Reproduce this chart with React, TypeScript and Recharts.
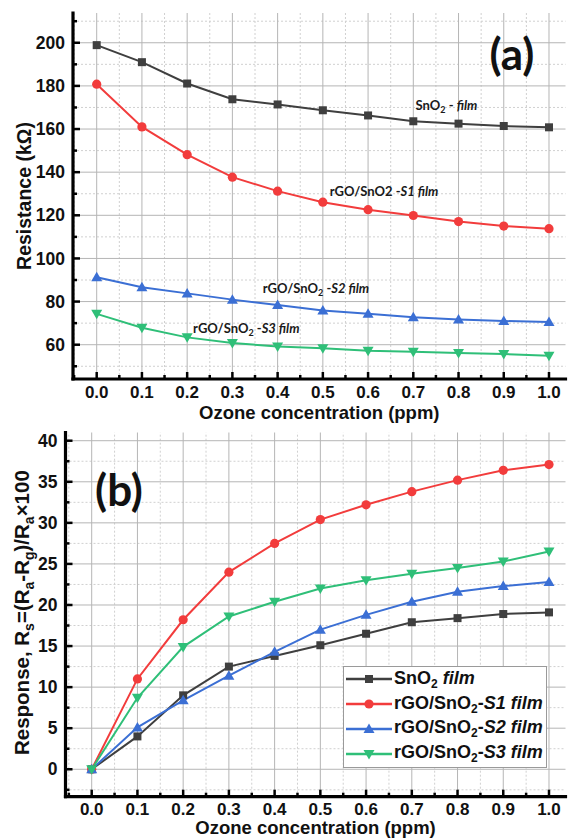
import React from "react";
import {
  LineChart,
  Line,
  XAxis,
  YAxis,
  ReferenceLine,
  ReferenceDot,
  Label,
} from "recharts";

// ---- data ----
const concentration = [0, 0.1, 0.2, 0.3, 0.4, 0.5, 0.6, 0.7, 0.8, 0.9, 1.0];

// panel (a) resistance, kOhm
const resSnO2 = [198.9, 191.0, 181.1, 173.8, 171.4, 168.7, 166.3, 163.6, 162.5, 161.4, 160.8];
const resS1 = [180.8, 161.0, 148.1, 137.7, 131.2, 126.1, 122.6, 119.9, 117.1, 115.0, 113.8];
const resS2 = [91.3, 86.6, 83.8, 80.9, 78.4, 75.9, 74.3, 72.7, 71.7, 71.0, 70.5];
const resS3 = [74.3, 67.9, 63.4, 60.8, 59.2, 58.3, 57.2, 56.7, 56.1, 55.7, 54.9];

// panel (b) response
const rspSnO2 = [0, 4.0, 9.0, 12.5, 13.8, 15.1, 16.5, 17.9, 18.4, 18.9, 19.1];
const rspS1 = [0, 11.0, 18.2, 24.0, 27.5, 30.4, 32.2, 33.8, 35.2, 36.4, 37.1];
const rspS2 = [0, 5.1, 8.4, 11.4, 14.3, 17.0, 18.8, 20.4, 21.6, 22.3, 22.8];
const rspS3 = [0, 8.7, 14.9, 18.6, 20.4, 22.0, 23.0, 23.8, 24.5, 25.3, 26.5];

const seriesKeys = ["snO2", "s1", "s2", "s3"];
const seriesColors = ["#3f3f3f", "#f23c3c", "#3b6fd4", "#2fbf78"];
const seriesShapes = ["square", "circle", "up", "down"];

// ticks
const xMajor = [0, 0.1, 0.2, 0.3, 0.4, 0.5, 0.6, 0.7, 0.8, 0.9, 1.0];
const xMinor = [-0.05, 0.05, 0.15, 0.25, 0.35, 0.45, 0.55, 0.65, 0.75, 0.85, 0.95];
const yMajorA = [60, 80, 100, 120, 140, 160, 180, 200];
const yMinorA = [50, 70, 90, 110, 130, 150, 170, 190, 210];
const yMajorB = [0, 5, 10, 15, 20, 25, 30, 35, 40];
const yMinorB = [-2.5, 2.5, 7.5, 12.5, 17.5, 22.5, 27.5, 32.5, 37.5];

const dataA = concentration.map((x, i) => ({
  x,
  snO2: resSnO2[i],
  s1: resS1[i],
  s2: resS2[i],
  s3: resS3[i],
}));
const dataB = concentration.map((x, i) => ({
  x,
  snO2: rspSnO2[i],
  s1: rspS1[i],
  s2: rspS2[i],
  s3: rspS3[i],
}));

const AXIS_FONT = '"Liberation Sans", Arial, sans-serif';
const NOTE_FONT = "Lato, 'Open Sans', sans-serif";
const TICK_SIZE = 17;
const TITLE_SIZE = 18.5;

const sortNum = (a: number[], b: number[]) => [...a, ...b].sort((p, q) => p - q);

function Marker({ shape, cx, cy, color }: any) {
  if (shape === "square")
    return <rect x={cx - 4} y={cy - 4} width={8} height={8} fill={color} />;
  if (shape === "circle") return <circle cx={cx} cy={cy} r={4.6} fill={color} />;
  if (shape === "up")
    return (
      <polygon
        points={`${cx},${cy - 5.5} ${cx + 5.5},${cy + 4} ${cx - 5.5},${cy + 4}`}
        fill={color}
      />
    );
  return (
    <polygon
      points={`${cx},${cy + 5.5} ${cx + 5.5},${cy - 4} ${cx - 5.5},${cy - 4}`}
      fill={color}
    />
  );
}

const dotFor = (shape: string, color: string) => (p: any) =>
  <Marker key={`${shape}-${p.index}`} shape={shape} cx={p.cx} cy={p.cy} color={color} />;

// inward tick marks drawn on each side of the frame
const tickText = {
  fontFamily: AXIS_FONT,
  fontWeight: 700,
  fontSize: TICK_SIZE,
  fill: "#111",
};

const bottomTick = (majors: number[], labelGap: number) => (p: any) => {
  const major = majors.includes(p.payload.value);
  return (
    <g>
      <line x1={p.x} y1={p.y} x2={p.x} y2={p.y - (major ? 7 : 4)} stroke="#000" strokeWidth={2.5} />
      {major && (
        <text x={p.x} y={p.y + labelGap} dy="0.35em" textAnchor="middle" {...tickText}>
          {p.payload.value.toFixed(1)}
        </text>
      )}
    </g>
  );
};

const topTick = (majors: number[]) => (p: any) => {
  const major = majors.includes(p.payload.value);
  return (
    <line x1={p.x} y1={p.y} x2={p.x} y2={p.y + (major ? 7 : 4)} stroke="#000" strokeWidth={2.5} />
  );
};

const leftTick = (majors: number[]) => (p: any) => {
  const major = majors.includes(p.payload.value);
  return (
    <g>
      <line x1={p.x} y1={p.y} x2={p.x + (major ? 7 : 4)} y2={p.y} stroke="#000" strokeWidth={2.5} />
      {major && (
        <text x={p.x - 8} y={p.y} dy="0.35em" textAnchor="end" {...tickText} fontSize={17.5}>
          {p.payload.value}
        </text>
      )}
    </g>
  );
};

const rightTick = (majors: number[]) => (p: any) => {
  const major = majors.includes(p.payload.value);
  return (
    <line x1={p.x} y1={p.y} x2={p.x - (major ? 7 : 4)} y2={p.y} stroke="#000" strokeWidth={2.5} />
  );
};

const frameLine = { stroke: "#000", strokeWidth: 3.2, strokeLinecap: "square" as const };

const titleText = {
  fontFamily: AXIS_FONT,
  fontWeight: 700,
  fontSize: TITLE_SIZE,
  fill: "#111",
};

function XTitle({ viewBox, dy }: any) {
  const { x, y, width } = viewBox;
  return (
    <text x={x + width / 2} y={y + dy} dy="0.35em" textAnchor="middle" {...titleText}>
      Ozone concentration (ppm)
    </text>
  );
}

function YTitleA({ viewBox }: any) {
  const cx = 24;
  const cy = viewBox.y + viewBox.height / 2;
  return (
    <text
      x={cx}
      y={cy}
      dy="0.35em"
      textAnchor="middle"
      transform={`rotate(-90 ${cx} ${cy})`}
      {...titleText}
      fontSize={19.5}
    >
      Resistance (kΩ)
    </text>
  );
}

function YTitleB({ viewBox }: any) {
  const cx = 22;
  const cy = viewBox.y + viewBox.height / 2 - 2;
  const sub = { fontSize: 14 };
  return (
    <text
      x={cx}
      y={cy}
      dy="0.35em"
      textAnchor="middle"
      transform={`rotate(-90 ${cx} ${cy})`}
      {...titleText}
      fontSize={20.5}
    >
      Response, R
      <tspan dy={5} {...sub}>s</tspan>
      <tspan dy={-5}>=(R</tspan>
      <tspan dy={5} {...sub}>a</tspan>
      <tspan dy={-5}>-R</tspan>
      <tspan dy={5} {...sub}>g</tspan>
      <tspan dy={-5}>)/R</tspan>
      <tspan dy={5} {...sub}>a</tspan>
      <tspan dy={-5}>×100</tspan>
    </text>
  );
}

// in-plot annotations for panel (a)
const noteText = { fontFamily: NOTE_FONT, fontWeight: 700, fontSize: 13, fill: "#1a1a1a" };

function Note({ viewBox, sample }: any) {
  const { x, y } = viewBox;
  return (
    <text x={x} y={y} dy="0.35em" {...noteText}>
      {sample === "snO2" ? (
        <>
          SnO<tspan dy={3} fontSize={9}>2</tspan>
          <tspan dy={-3}> - </tspan>
          <tspan fontStyle="italic">film</tspan>
        </>
      ) : sample === "s1" ? (
        <>
          rGO/SnO2 -<tspan fontStyle="italic">S1 film</tspan>
        </>
      ) : (
        <>
          rGO/SnO<tspan dy={3} fontSize={9}>2</tspan>
          <tspan dy={-3}> -</tspan>
          <tspan fontStyle="italic">{sample === "s2" ? "S2 film" : "S3 film"}</tspan>
        </>
      )}
    </text>
  );
}

const notesA = [
  { key: "snO2", x: 0.705, y: 171.0 },
  { key: "s1", x: 0.515, y: 131.2 },
  { key: "s2", x: 0.367, y: 86.0 },
  { key: "s3", x: 0.213, y: 67.4 },
];

function Panel({
  data,
  top,
  height,
  marginTop,
  xHeight,
  labelGap,
  titleDy,
  yWidth,
  xDomain,
  yDomain,
  yMajor,
  yMinor,
  yTitle,
  notes,
}: any) {
  const xTicks = sortNum(xMajor, xMinor);
  const yTicks = sortNum(yMajor, yMinor);
  return (
    <div style={{ position: "absolute", left: 0, top }}>
      <LineChart
        width={569}
        height={height}
        data={data}
        margin={{ top: marginTop, right: 3.5, bottom: 0, left: 0 }}
      >
        {xMinor.map((v) => (
          <ReferenceLine key={`xm${v}`} x={v} xAxisId="x" yAxisId="y" stroke="#d0d0d0" strokeDasharray="2 2" />
        ))}
        {yMinor.map((v: number) => (
          <ReferenceLine key={`ym${v}`} y={v} xAxisId="x" yAxisId="y" stroke="#d0d0d0" strokeDasharray="2 2" />
        ))}
        {xMajor.map((v) => (
          <ReferenceLine key={`xM${v}`} x={v} xAxisId="x" yAxisId="y" stroke="#b5b5b5" />
        ))}
        {yMajor.map((v: number) => (
          <ReferenceLine key={`yM${v}`} y={v} xAxisId="x" yAxisId="y" stroke="#b5b5b5" />
        ))}
        <XAxis
          xAxisId="xt"
          orientation="top"
          type="number"
          dataKey="x"
          domain={xDomain}
          ticks={xTicks}
          interval={0}
          height={0}
          tickSize={0}
          tickMargin={0}
          tickLine={false}
          tick={topTick(xMajor)}
          axisLine={frameLine}
        />
        <XAxis
          xAxisId="x"
          type="number"
          dataKey="x"
          domain={xDomain}
          ticks={xTicks}
          interval={0}
          height={xHeight}
          tickSize={0}
          tickMargin={0}
          tickLine={false}
          tick={bottomTick(xMajor, labelGap)}
          axisLine={frameLine}
        >
          <Label content={<XTitle dy={titleDy} />} />
        </XAxis>
        <YAxis
          yAxisId="yr"
          orientation="right"
          type="number"
          domain={yDomain}
          ticks={yTicks}
          interval={0}
          width={0}
          tickSize={0}
          tickMargin={0}
          tickLine={false}
          tick={rightTick(yMajor)}
          axisLine={frameLine}
        />
        <YAxis
          yAxisId="y"
          type="number"
          domain={yDomain}
          ticks={yTicks}
          interval={0}
          width={yWidth}
          tickSize={0}
          tickMargin={0}
          tickLine={false}
          tick={leftTick(yMajor)}
          axisLine={frameLine}
        >
          <Label content={yTitle} />
        </YAxis>
        {seriesKeys.map((k, i) => (
          <Line
            key={k}
            xAxisId="x"
            yAxisId="y"
            type="linear"
            dataKey={k}
            stroke={seriesColors[i]}
            strokeWidth={2}
            dot={dotFor(seriesShapes[i], seriesColors[i])}
            activeDot={false}
            isAnimationActive={false}
          />
        ))}
        {notes &&
          notes.map((n: any) => (
            <ReferenceDot
              key={n.key}
              xAxisId="x"
              yAxisId="y"
              x={n.x}
              y={n.y}
              r={0}
              fill="none"
              stroke="none"
              label={<Note sample={n.key} />}
            />
          ))}
      </LineChart>
    </div>
  );
}

const legendNames = [
  ["SnO", "2", " ", "film"],
  ["rGO/SnO", "2", "-", "S1 film"],
  ["rGO/SnO", "2", "-", "S2 film"],
  ["rGO/SnO", "2", "-", "S3 film"],
];

function LegendBox() {
  return (
    <div
      style={{
        position: "absolute",
        left: 343,
        top: 666,
        width: 204,
        height: 102,
        border: "1px solid #9a9a9a",
        background: "#fff",
        boxSizing: "border-box",
        fontFamily: AXIS_FONT,
        fontWeight: 700,
        fontSize: 18,
        color: "#111",
        paddingTop: 0,
      }}
    >
      {seriesKeys.map((k, i) => (
        <div key={k} style={{ display: "flex", alignItems: "center", height: 24.8, whiteSpace: "nowrap" }}>
          <svg width={50} height={14} style={{ flex: "none" }}>
            <line x1={2} y1={7} x2={48} y2={7} stroke={seriesColors[i]} strokeWidth={2.5} />
            <Marker shape={seriesShapes[i]} cx={25} cy={7} color={seriesColors[i]} />
          </svg>
          <span>
            {legendNames[i][0]}
            <sub style={{ fontSize: 12, verticalAlign: "-4px" }}>{legendNames[i][1]}</sub>
            {legendNames[i][2]}
            <i>{legendNames[i][3]}</i>
          </span>
        </div>
      ))}
    </div>
  );
}

const panelTag = {
  position: "absolute" as const,
  fontFamily: NOTE_FONT,
  fontWeight: 700,
  fontSize: 44,
  lineHeight: 1,
  color: "#111",
  transform: "translate(-50%, -50%)",
};

export default function App() {
  return (
    <div
      style={{
        position: "absolute",
        left: 0,
        top: 0,
        width: 569,
        height: 839,
        background: "#fff",
        overflow: "hidden",
      }}
    >
      <Panel
        data={dataA}
        top={0}
        height={428}
        marginTop={13}
        xHeight={49}
        labelGap={13}
        titleDy={33.5}
        yWidth={73}
        xDomain={[-0.0524, 1.0365]}
        yDomain={[44.1, 213.8]}
        yMajor={yMajorA}
        yMinor={yMinorA}
        yTitle={<YTitleA />}
        notes={notesA}
      />
      <Panel
        data={dataB}
        top={420}
        height={425}
        marginTop={12.5}
        xHeight={48.3}
        labelGap={12}
        titleDy={31}
        yWidth={65.5}
        xDomain={[-0.0573, 1.0361]}
        yDomain={[-3.34, 41.0]}
        yMajor={yMajorB}
        yMinor={yMinorB}
        yTitle={<YTitleB />}
      />
      <div style={{ ...panelTag, left: 512, top: 53 }}>(a)</div>
      <div style={{ ...panelTag, left: 119, top: 489 }}>(b)</div>
      <LegendBox />
    </div>
  );
}
